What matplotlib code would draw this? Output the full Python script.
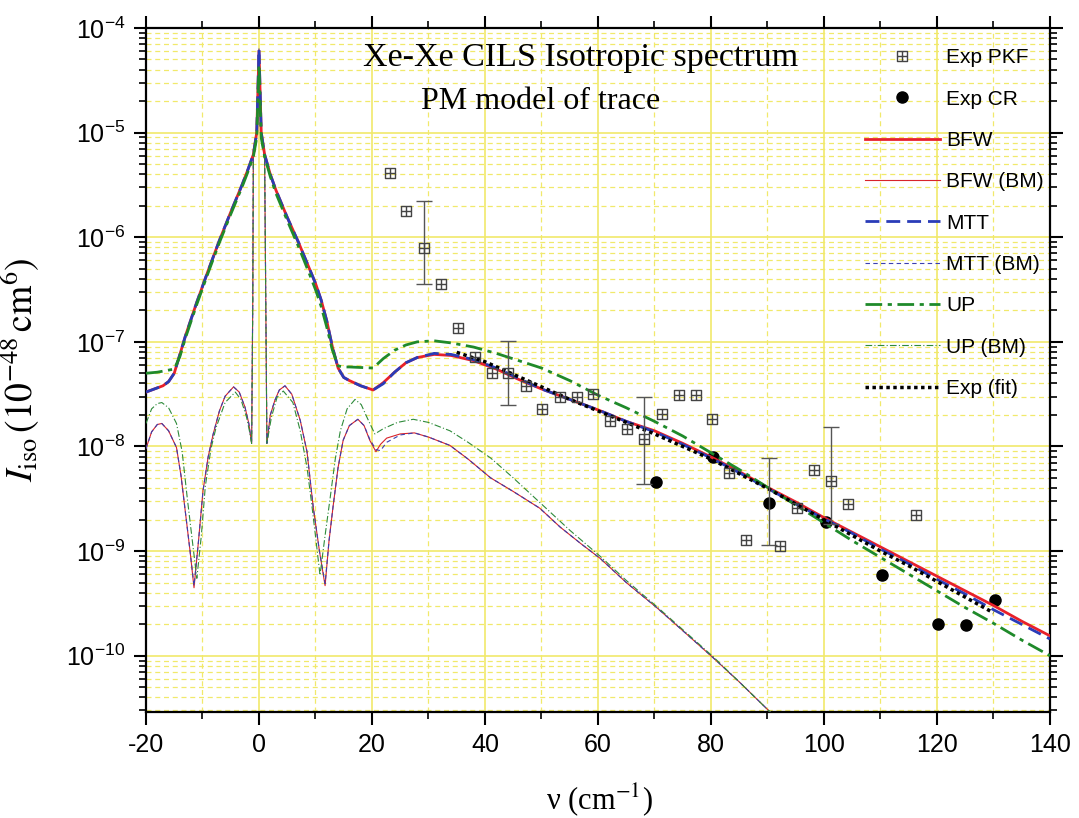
import numpy as np
import matplotlib.pyplot as plt
from matplotlib.path import Path
from matplotlib.ticker import LogLocator, MultipleLocator, NullFormatter

plt.rcParams['font.family'] = ['Liberation Sans', 'DejaVu Sans']
plt.rcParams['mathtext.fontset'] = 'stix'
plt.rcParams['axes.unicode_minus'] = False

# wavenumber grid of the full curves (cm^-1)
nu_main = [-20, -18, -17, -16, -15, -14, -13, -11, -9, -7, -5, -3, -2, -1, -0.4, 0, 0.4, 1, 2, 3,
           5, 7, 9, 10, 11, 12, 13, 14, 15, 16, 18, 20.2, 22, 24, 26, 28, 31, 34, 38, 42,
           46, 50, 55, 60, 65, 70, 75, 80, 85, 90, 95, 100, 105, 110, 115, 120, 125, 130, 135, 140]
# log10 of intensity
bfw_exp = [-7.48, -7.44, -7.42, -7.38, -7.30, -7.12, -6.94, -6.62, -6.32, -6.03, -5.76, -5.50, -5.36, -5.21, -5.00, -4.22, -5.00, -5.21, -5.40, -5.55,
           -5.81, -6.05, -6.31, -6.44, -6.60, -6.80, -7.05, -7.25, -7.34, -7.37, -7.42, -7.46, -7.39, -7.29, -7.20, -7.15, -7.12, -7.13, -7.18, -7.26,
           -7.36, -7.45, -7.55, -7.65, -7.76, -7.85, -7.97, -8.10, -8.24, -8.39, -8.53, -8.68, -8.82, -8.96, -9.10, -9.24, -9.38, -9.52, -9.67, -9.81]
mtt_exp = [-7.48, -7.44, -7.42, -7.38, -7.30, -7.12, -6.94, -6.62, -6.32, -6.03, -5.76, -5.50, -5.36, -5.21, -5.00, -4.20, -5.00, -5.21, -5.40, -5.55,
           -5.81, -6.05, -6.31, -6.44, -6.60, -6.80, -7.05, -7.25, -7.34, -7.37, -7.42, -7.46, -7.40, -7.29, -7.20, -7.15, -7.11, -7.12, -7.17, -7.25,
           -7.35, -7.45, -7.55, -7.65, -7.76, -7.86, -7.98, -8.11, -8.25, -8.40, -8.55, -8.69, -8.83, -8.98, -9.12, -9.27, -9.41, -9.56, -9.70, -9.84]
up_exp = [-7.30, -7.29, -7.28, -7.27, -7.26, -7.14, -6.96, -6.64, -6.34, -6.05, -5.78, -5.52, -5.38, -5.23, -5.05, -4.35, -5.05, -5.23, -5.42, -5.58,
          -5.84, -6.09, -6.36, -6.50, -6.66, -6.86, -7.08, -7.23, -7.24, -7.24, -7.245, -7.25, -7.16, -7.08, -7.03, -7.00, -6.99, -7.01, -7.05, -7.11,
          -7.18, -7.25, -7.37, -7.51, -7.63, -7.76, -7.90, -8.06, -8.22, -8.39, -8.56, -8.73, -8.90, -9.06, -9.22, -9.38, -9.54, -9.69, -9.85, -10.0]

# BM (thin) curves
nu_bm = [-20, -19, -18, -17.2, -16, -14.6, -13.8, -13, -12.2, -11.5, -10.7, -9.9, -9, -8.1, -7, -6, -4.5, -3.5, -2.5, -1.8,
         -1.3, -1.1, -1.0, -0.4, 0, 0.4, 1.0, 1.2, 1.4, 2, 2.8, 3.6, 4.6, 5.8, 7.3, 8.5, 9.6, 10.7, 11.7, 12.4,
         13.1, 14, 14.9, 16, 17.5, 18.6, 19.6, 20.7, 21.5, 22.6, 25, 27.5, 30, 33.8, 37, 41, 45, 49.7, 53.3, 57,
         60.4, 65, 70.4, 75, 80.4, 85, 90.7, 95]
bfw_bm_exp = [-8.02, -7.86, -7.79, -7.78, -7.85, -8.01, -8.28, -8.64, -9.00, -9.35, -8.90, -8.42, -8.10, -7.88, -7.66, -7.52, -7.43, -7.48, -7.62, -7.78,
              -7.97, -6.6, -5.25, -5.00, -4.22, -5.00, -5.25, -6.6, -7.97, -7.70, -7.56, -7.46, -7.42, -7.50, -7.75, -8.05, -8.58, -9.00, -9.33, -8.90,
              -8.58, -8.20, -7.94, -7.80, -7.74, -7.80, -7.94, -8.05, -7.98, -7.92, -7.88, -7.87, -7.91, -7.99, -8.12, -8.30, -8.43, -8.59, -8.77, -8.93,
              -9.07, -9.30, -9.54, -9.76, -10.02, -10.25, -10.55, -10.78]
mtt_bm_exp = [-8.02, -7.86, -7.79, -7.78, -7.85, -8.01, -8.28, -8.64, -9.00, -9.33, -8.90, -8.42, -8.10, -7.88, -7.66, -7.52, -7.43, -7.48, -7.62, -7.78,
              -7.97, -6.6, -5.25, -5.00, -4.20, -5.00, -5.25, -6.6, -7.97, -7.70, -7.56, -7.46, -7.42, -7.50, -7.75, -8.05, -8.58, -9.00, -9.31, -8.90,
              -8.58, -8.20, -7.94, -7.80, -7.74, -7.80, -7.93, -8.03, -8.04, -7.96, -7.89, -7.87, -7.91, -7.99, -8.12, -8.30, -8.43, -8.59, -8.77, -8.93,
              -9.07, -9.30, -9.54, -9.76, -10.02, -10.25, -10.55, -10.78]
nu_bm_up = [-20, -19, -18, -17.2, -16, -14.6, -13.6, -12.7, -11.8, -11, -10.2, -9.5, -8.5, -7.6, -6, -4.2, -3.2, -2.2, -1.7, -1.3,
            -1.1, -1.0, -0.4, 0, 0.4, 1.0, 1.2, 1.4, 2.2, 3.2, 4.3, 6, 7.3, 8.5, 9.4, 10.1, 10.8, 11.7, 12.6, 13.5,
            14.4, 15.6, 17, 18.1, 19.1, 20.5, 22, 24.5, 27.3, 30, 33.8, 37, 41, 45, 50, 55, 60.4, 65, 70.4, 75,
            80.4, 85, 90.7, 95]
up_bm_exp = [-7.78, -7.64, -7.59, -7.58, -7.63, -7.78, -8.05, -8.49, -8.90, -9.26, -8.85, -8.38, -8.02, -7.82, -7.58, -7.48, -7.55, -7.72, -7.85, -7.97,
             -6.6, -5.25, -5.05, -4.35, -5.05, -5.25, -6.6, -7.97, -7.72, -7.53, -7.47, -7.58, -7.85, -8.20, -8.58, -8.90, -9.23, -8.85, -8.49, -8.12,
             -7.85, -7.64, -7.55, -7.60, -7.72, -7.88, -7.83, -7.77, -7.74, -7.77, -7.85, -7.96, -8.11, -8.30, -8.55, -8.80, -9.05, -9.28, -9.53, -9.75,
             -10.01, -10.25, -10.55, -10.78]

# exponential fit to experiment
nu_fit = [35, 40, 45, 50, 55, 60, 65, 70, 75, 80, 85, 90, 95, 100, 105, 110, 115, 120, 125, 130]
fit_exp = [-7.10, -7.19, -7.31, -7.43, -7.55, -7.66, -7.77, -7.88, -8.00, -8.12, -8.26, -8.40, -8.55, -8.70, -8.85, -9.00, -9.14, -9.29, -9.44, -9.59]

# experimental points
pkf_nu = [23.2, 26.1, 29.2, 32.2, 35.2, 38.2, 41.2, 44.1, 47.2, 50.1, 53.3, 56.2, 59.2, 62.1, 65.2, 68.1, 71.3, 74.3, 77.3, 80.2,
          83.2, 86.2, 92.3, 95.2, 98.3, 101.2, 104.2, 116.3]
pkf_I = [4.1e-6, 1.8e-6, 7.9e-7, 3.6e-7, 1.35e-7, 7.1e-8, 5.0e-8, 5.0e-8, 3.8e-8, 2.3e-8, 3.0e-8, 2.95e-8, 3.15e-8, 1.75e-8, 1.47e-8, 1.17e-8, 2.04e-8, 3.1e-8, 3.1e-8, 1.84e-8,
         5.6e-9, 1.29e-9, 1.12e-9, 2.57e-9, 6.0e-9, 4.7e-9, 2.8e-9, 2.2e-9]
cr_nu = [70.2, 80.3, 90.3, 100.4, 110.2, 120.2, 125.2, 130.3]
cr_I = [4.6e-9, 8.0e-9, 2.9e-9, 1.9e-9, 5.9e-10, 2.0e-10, 1.96e-10, 3.4e-10]

# error bars (x, centre, upper, lower)
err_nu = [29.2, 44.1, 68.1, 101.2, 90.3]
err_mid = [7.9e-7, 5.0e-8, 1.17e-8, 4.7e-9, 2.9e-9]
err_hi = [2.2e-6, 1.03e-7, 2.95e-8, 1.53e-8, 7.8e-9]
err_lo = [3.6e-7, 2.5e-8, 4.4e-9, 1.8e-9, 1.15e-9]

grid_yellow = '#f1e96b'
serif = ['Liberation Serif', 'DejaVu Serif']

fig = plt.figure(figsize=(10.79, 8.18), dpi=100)
ax = fig.add_axes([0.1353, 0.1296, 0.8378, 0.8362])

# square with a cross inside, like the PKF symbol
sq_plus = Path([(-1, -1), (1, -1), (1, 1), (-1, 1), (-1, -1), (0, -1), (0, 1), (-1, 0), (1, 0)],
               [Path.MOVETO, Path.LINETO, Path.LINETO, Path.LINETO, Path.CLOSEPOLY,
                Path.MOVETO, Path.LINETO, Path.MOVETO, Path.LINETO])

def p10(a):
    return 10.0 ** np.array(a)

h_bfw_bm, = ax.plot(nu_bm, p10(bfw_bm_exp), color='#d8232a', lw=0.8, zorder=3)
h_mtt_bm, = ax.plot(nu_bm, p10(mtt_bm_exp), color='#3a3fb0', lw=0.8, ls=(0, (4, 3)), zorder=3)
h_up_bm, = ax.plot(nu_bm_up, p10(up_bm_exp), color='#2e8b3a', lw=0.8, ls=(0, (6, 2, 1, 2)), zorder=3)

h_cr = ax.plot(cr_nu, cr_I, 'o', color='black', ms=8, ls='none', zorder=3)[0]

h_bfw, = ax.plot(nu_main, p10(bfw_exp), color='#e8202a', lw=2.0, zorder=4)
h_mtt, = ax.plot(nu_main, p10(mtt_exp), color='#2a3cb8', lw=2.0, ls=(0, (5, 2.5)), zorder=4)
h_up, = ax.plot(nu_main, p10(up_exp), color='#1f8a2a', lw=2.0, ls=(0, (6, 2, 1.5, 2)), zorder=4)
h_fit, = ax.plot(nu_fit, p10(fit_exp), color='black', lw=2.5, ls=(0, (1, 1)), zorder=5)

err_mid_a = np.array(err_mid)
ax.errorbar(err_nu, err_mid, yerr=[err_mid_a - np.array(err_lo), np.array(err_hi) - err_mid_a],
            fmt='none', ecolor='#555555', elinewidth=1.0, capsize=6, capthick=1.0, zorder=6)
h_pkf, = ax.plot(pkf_nu, pkf_I, marker=sq_plus, ms=7, mfc='none', mec='#444444', mew=1.0,
                 ls='none', zorder=6)

ax.set_yscale('log')
ax.set_xlim(-20, 140)
ax.set_ylim(2.9e-11, 1e-4)
ax.xaxis.set_major_locator(MultipleLocator(20))
ax.xaxis.set_minor_locator(MultipleLocator(10))
ax.yaxis.set_major_locator(LogLocator(base=10, numticks=20))
ax.yaxis.set_minor_locator(LogLocator(base=10, subs=np.arange(2, 10), numticks=20))
ax.yaxis.set_minor_formatter(NullFormatter())

ax.set_axisbelow(True)
ax.grid(which='major', color=grid_yellow, lw=1.2, ls='-')
ax.grid(which='minor', color=grid_yellow, lw=0.9, ls=(0, (4, 3)))

ax.tick_params(which='both', direction='out', top=True, right=True, labelsize=18, width=1.5)
ax.tick_params(which='major', length=9, pad=6)
ax.tick_params(which='minor', length=5, width=1.2)
for sp in ax.spines.values():
    sp.set_linewidth(1.6)

ax.set_ylabel(r'$I_{\rm iso}\,(10^{-48}\,{\rm cm}^{6})$', fontsize=27)
ax.yaxis.set_label_coords(-0.115, 0.5)
ax.set_xlabel('ν (cm$^{-1}$)', fontsize=22, family=serif)
ax.xaxis.set_label_coords(0.502, -0.102)

ax.text(0.481, 0.956, 'Xe-Xe CILS Isotropic spectrum', transform=ax.transAxes, ha='center', va='center',
        fontsize=24.5, family=serif)
ax.text(0.437, 0.892, 'PM model of trace', transform=ax.transAxes, ha='center', va='center',
        fontsize=23, family=serif)

handles = [h_pkf, h_cr, h_bfw, h_bfw_bm, h_mtt, h_mtt_bm, h_up, h_up_bm, h_fit]
labels = ['Exp PKF', 'Exp CR', 'BFW', 'BFW (BM)', 'MTT', 'MTT (BM)', 'UP', 'UP (BM)', 'Exp (fit)']
ax.legend(handles, labels, loc='upper left', bbox_to_anchor=(0.795, 0.97), frameon=False,
          fontsize=15, handlelength=3.6, handletextpad=0.3, labelspacing=1.07, borderpad=0,
          borderaxespad=0, markerscale=1.0)

fig.savefig('out.png', dpi=100)
